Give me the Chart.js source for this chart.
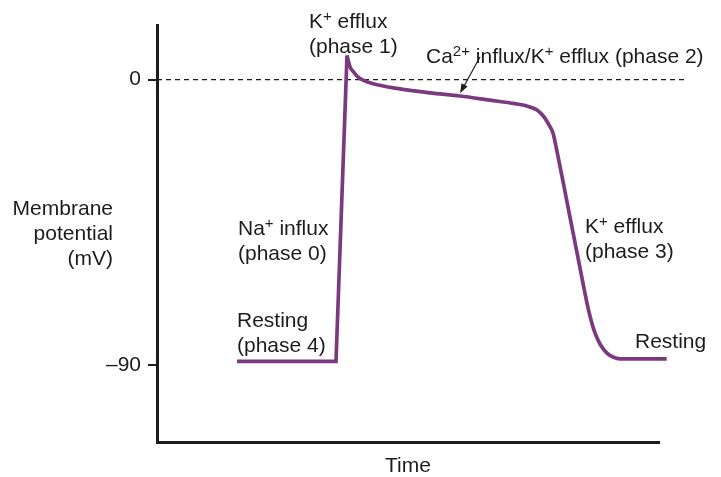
<!DOCTYPE html>
<html>
<head>
<meta charset="utf-8">
<title>Cardiac action potential</title>
<script src="https://cdn.jsdelivr.net/npm/chart.js@4"></script>
<style>
    html, body { margin: 0; padding: 0; background: #ffffff; }
    #wrap { width: 721px; height: 477px; }
</style>
</head>
<body>
<div id="wrap"><canvas id="apChart" width="721" height="477"></canvas></div>
<script>
// resting potential and the phase 0 upstroke (straight segments)
const riseTime = [80, 179, 190];
const riseMv = [-88.9, -88.9, 7.6];

// phase 1 notch, phase 2 plateau, phase 3 repolarization, back to rest
const fallTime = [190, 193, 196.5, 200, 206, 216, 240, 273, 303, 333,
    358, 368, 380, 387, 392, 396, 399.7, 406.3, 412, 423,
    430, 434, 438, 443, 449.7, 456, 463, 509.7];
const fallMv = [7.6, 4.0, 2.4, 1.1, -0.2, -1.3, -2.8, -4.2, -5.2, -6.5,
    -7.6, -8.2, -9.6, -11.8, -14.3, -16.9, -22.2, -32.6, -41.8, -59.4,
    -70.5, -75.8, -79.9, -83.4, -86.2, -87.5, -88.1, -88.1];

const yTicks = [0, -90];
const yTickLabels = ["0", "–90"];
const zeroLineTime = [0, 530];

const INK = "#1f1b1c";
const TRACE = "#7b3a7f";
const FONT = "'Liberation Sans', Arial, Helvetica, sans-serif";
const FONT_SIZE = 21;
const SUP_SIZE = 15;
const SUP_RISE = 7;
const LINE_GAP = 25;

// text blocks anchored at (time, mV) of the first baseline
const phaseLabels = [
    { t: 152, mv: 16.1, lines: ["K^{+} efflux", "(phase 1)"] },
    { t: 269, mv: 5.1, lines: ["Ca^{2+} influx/K^{+} efflux (phase 2)"] },
    { t: 81, mv: -49.0, lines: ["Na^{+} influx", "(phase 0)"] },
    { t: 80, mv: -77.9, lines: ["Resting", "(phase 4)"] },
    { t: 428, mv: -48.5, lines: ["K^{+} efflux", "(phase 3)"] },
    { t: 478, mv: -84.7, lines: ["Resting"] }
];
const plateauArrow = { from: [323, 7.1], to: [303, -4.3] };

function toPoints(xs, ys) {
    return xs.map((x, i) => ({ x: x, y: ys[i] }));
}

function drawRich(ctx, str, x, y) {
    const parts = str.split(/\^\{([^}]*)\}/);
    parts.forEach((part, i) => {
        if (!part) return;
        const sup = i % 2 === 1;
        ctx.font = (sup ? SUP_SIZE : FONT_SIZE) + "px " + FONT;
        ctx.fillText(part, x, sup ? y - SUP_RISE : y);
        x += ctx.measureText(part).width;
    });
}

const labelPlugin = {
    id: "phaseLabels",
    afterDatasetsDraw(chart) {
        const ctx = chart.ctx;
        const xs = chart.scales.x;
        const ys = chart.scales.y;
        const area = chart.chartArea;

        ctx.save();
        ctx.fillStyle = INK;
        ctx.textAlign = "left";
        ctx.textBaseline = "alphabetic";

        phaseLabels.forEach(label => {
            const px = xs.getPixelForValue(label.t);
            const py = ys.getPixelForValue(label.mv);
            label.lines.forEach((line, i) => drawRich(ctx, line, px, py + i * LINE_GAP));
        });

        // y axis title, horizontal and right aligned
        ctx.textAlign = "right";
        ctx.font = FONT_SIZE + "px " + FONT;
        const mid = (area.top + area.bottom) / 2;
        ["Membrane", "potential", "(mV)"].forEach((line, i) => {
            ctx.fillText(line, area.left - 44, mid - 18.5 + i * LINE_GAP);
        });

        // arrow pointing at the plateau
        const x1 = xs.getPixelForValue(plateauArrow.from[0]);
        const y1 = ys.getPixelForValue(plateauArrow.from[1]);
        const x2 = xs.getPixelForValue(plateauArrow.to[0]);
        const y2 = ys.getPixelForValue(plateauArrow.to[1]);
        const ang = Math.atan2(y2 - y1, x2 - x1);
        const head = 10;
        ctx.strokeStyle = INK;
        ctx.lineWidth = 1.2;
        ctx.beginPath();
        ctx.moveTo(x1, y1);
        ctx.lineTo(x2 - Math.cos(ang) * head * 0.8, y2 - Math.sin(ang) * head * 0.8);
        ctx.stroke();
        ctx.beginPath();
        ctx.moveTo(x2, y2);
        ctx.lineTo(x2 - head * Math.cos(ang - 0.35), y2 - head * Math.sin(ang - 0.35));
        ctx.lineTo(x2 - head * Math.cos(ang + 0.35), y2 - head * Math.sin(ang + 0.35));
        ctx.closePath();
        ctx.fill();

        ctx.restore();
    }
};

new Chart(document.getElementById("apChart"), {
    type: "scatter",
    data: {
        datasets: [
            {
                data: toPoints(riseTime, riseMv),
                showLine: true,
                borderColor: TRACE,
                borderWidth: 3.7,
                borderJoinStyle: "miter",
                pointRadius: 0,
                tension: 0,
                clip: false,
                order: 1
            },
            {
                data: toPoints(fallTime, fallMv),
                showLine: true,
                borderColor: TRACE,
                borderWidth: 3.7,
                borderJoinStyle: "round",
                pointRadius: 0,
                cubicInterpolationMode: "monotone",
                clip: false,
                order: 1
            },
            {
                data: toPoints(zeroLineTime, [0, 0]),
                showLine: true,
                borderColor: INK,
                borderWidth: 1.2,
                borderDash: [5, 4],
                pointRadius: 0,
                clip: false,
                order: 2
            }
        ]
    },
    options: {
        responsive: false,
        animation: false,
        layout: { padding: { top: 25, right: 62, bottom: 0, left: 0 } },
        plugins: {
            legend: { display: false },
            tooltip: { enabled: false }
        },
        scales: {
            x: {
                type: "linear",
                min: 0,
                max: 502,
                afterFit: scale => { scale.height = 35; },
                ticks: { display: false },
                grid: { display: false },
                border: { color: INK, width: 3 },
                title: {
                    display: true,
                    text: "Time",
                    color: INK,
                    padding: 0,
                    font: { family: FONT, size: FONT_SIZE, lineHeight: 1 }
                }
            },
            y: {
                min: -114.3,
                max: 17.2,
                afterFit: scale => { scale.width = 157; },
                afterBuildTicks: scale => { scale.ticks = yTicks.map(v => ({ value: v })); },
                ticks: {
                    color: INK,
                    padding: 7,
                    font: { family: FONT, size: FONT_SIZE },
                    callback: (value, index) => yTickLabels[index]
                },
                grid: {
                    drawOnChartArea: false,
                    drawTicks: true,
                    tickLength: 9,
                    color: INK,
                    lineWidth: 2
                },
                border: { color: INK, width: 3 }
            }
        }
    },
    plugins: [labelPlugin]
});
</script>
</body>
</html>
